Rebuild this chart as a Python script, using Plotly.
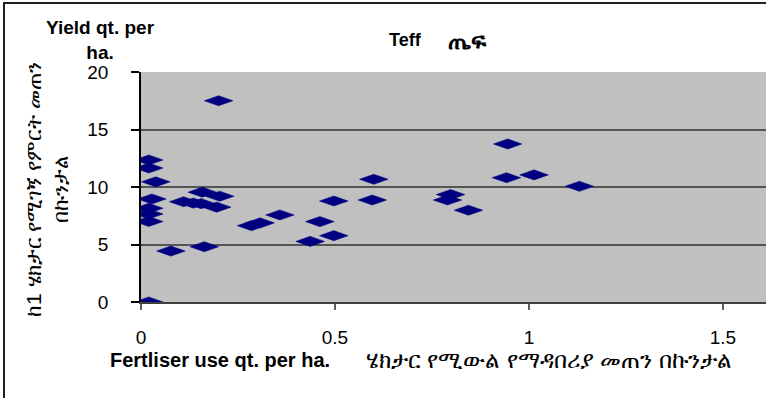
import plotly.graph_objects as go

# ---- data ----
fertiliser_qt_per_ha = [0.02, 0.02, 0.02, 0.038, 0.028, 0.02, 0.02, 0.02,
                        0.077, 0.11, 0.135, 0.155, 0.158, 0.163, 0.2, 0.203,
                        0.195, 0.285, 0.307, 0.358, 0.436, 0.461, 0.497, 0.497,
                        0.596, 0.6, 0.79, 0.798, 0.844, 0.945, 0.942, 1.013, 1.13]
yield_qt_per_ha = [0.0, 12.35, 11.65, 10.45, 8.96, 8.15, 7.65, 7.0,
                   4.43, 8.72, 8.6, 8.55, 9.55, 4.81, 17.5, 9.2,
                   8.25, 6.64, 6.88, 7.57, 5.27, 6.99, 5.77, 8.78,
                   8.87, 10.67, 8.87, 9.34, 7.98, 13.74, 10.81, 11.05, 10.06]

x_tick_vals = [0, 0.5, 1, 1.5]
x_tick_labels = ["0", "0.5", "1", "1.5"]
y_tick_vals = [0, 5, 10, 15, 20]
y_tick_labels = ["0", "5", "10", "15", "20"]

title_en = "Teff"
title_am = "ጤፍ"
x_title_en = "Fertliser use qt. per ha."
x_title_am = "ሄክታር የሚውል የማዳበሪያ መጠን በኩንታል"
y_title_en = "Yield qt. per<br>ha."
y_title_am = "ከ1 ሄክታር የሚገኝ የምርት መጠን<br>በኩንታል"

# ---- style ----
FONT = "Liberation Sans, Arial, DejaVu Sans, sans-serif"
NAVY = "#000080"
X_MAX = 1.611
Y_MAX = 20
# half width / half height of the flat diamond markers, in axis units
HW = 0.037
HH = 0.44


def px_x(p):
    return (p - 141) / 625


def px_y(p):
    return (302 - p) / 230


# build flat diamond outlines around each data point (through the data axes)
dx, dy = [], []
for xv, yv in zip(fertiliser_qt_per_ha, yield_qt_per_ha):
    dx += [xv - HW, xv, xv + HW, xv, xv - HW, None]
    dy += [yv, yv + HH, yv, yv - HH, yv, None]

fig = go.Figure()
fig.add_trace(go.Scatter(
    x=dx, y=dy, mode="lines", fill="toself",
    fillcolor=NAVY, line=dict(color=NAVY, width=0.5),
    hoverinfo="skip", showlegend=False,
))
fig.add_trace(go.Scatter(
    x=fertiliser_qt_per_ha, y=yield_qt_per_ha, mode="markers",
    marker=dict(size=1, color=NAVY, opacity=0),
    showlegend=False,
))

fig.update_layout(
    width=766, height=398,
    margin=dict(l=141, r=0, t=72, b=96),
    paper_bgcolor="white",
    plot_bgcolor="#C0C0C0",
    font=dict(family=FONT, color="black"),
    showlegend=False,
    xaxis=dict(
        range=[0, X_MAX], tickvals=x_tick_vals, ticktext=x_tick_labels,
        showgrid=False, zeroline=False,
        showline=True, linecolor="#404040", linewidth=1.5,
        ticks="outside", ticklen=6, tickcolor="#606060", tickwidth=1.5,
        ticklabelstandoff=11,
        tickfont=dict(family=FONT, size=19, color="black"),
    ),
    yaxis=dict(
        range=[0, Y_MAX], tickvals=y_tick_vals, ticktext=y_tick_labels,
        showgrid=True, gridcolor="#555555", gridwidth=1.5,
        zeroline=False,
        showline=True, linecolor="black", linewidth=1.5,
        ticks="outside", ticklen=8, tickcolor="black", tickwidth=1.5,
        ticklabelstandoff=19,
        tickfont=dict(family=FONT, size=19, color="black"),
    ),
)

# chart title (two parts)
fig.add_annotation(text="<b>" + title_en + "</b>", xref="paper", yref="paper",
                   x=px_x(387), y=px_y(40), xanchor="left", yanchor="middle",
                   showarrow=False, font=dict(family=FONT, size=18, color="black"))
fig.add_annotation(text="<b>" + title_am + "</b>", xref="paper", yref="paper",
                   x=px_x(446), y=px_y(41), xanchor="left", yanchor="middle",
                   showarrow=False, font=dict(family=FONT, size=23, color="black"))

# axis titles as annotations
fig.add_annotation(text="<b>" + x_title_en + "</b>", xref="paper", yref="paper",
                   x=px_x(108), y=px_y(360),
                   xanchor="left", yanchor="middle", showarrow=False,
                   font=dict(family=FONT, size=20, color="black"))
fig.add_annotation(text=x_title_am, xref="paper", yref="paper",
                   x=px_x(364), y=px_y(360),
                   xanchor="left", yanchor="middle", showarrow=False,
                   font=dict(family=FONT, size=23, color="black"))
fig.add_annotation(text="<b>" + y_title_en + "</b>", xref="paper", yref="paper",
                   x=px_x(100), y=px_y(40),
                   xanchor="center", yanchor="middle", showarrow=False,
                   align="center",
                   font=dict(family=FONT, size=19, color="black"))
fig.add_annotation(text=y_title_am, xref="paper", yref="paper",
                   x=px_x(47), y=px_y(190),
                   xanchor="center", yanchor="middle", showarrow=False,
                   textangle=-90, align="center",
                   font=dict(family=FONT, size=21, color="black"))

# outer chart-area border
fig.add_shape(type="rect", xref="paper", yref="paper",
              x0=px_x(4), x1=px_x(780),
              y0=px_y(420), y1=px_y(3),
              line=dict(color="#202020", width=2), fillcolor="rgba(0,0,0,0)",
              layer="above")

fig.write_html("out.html")
